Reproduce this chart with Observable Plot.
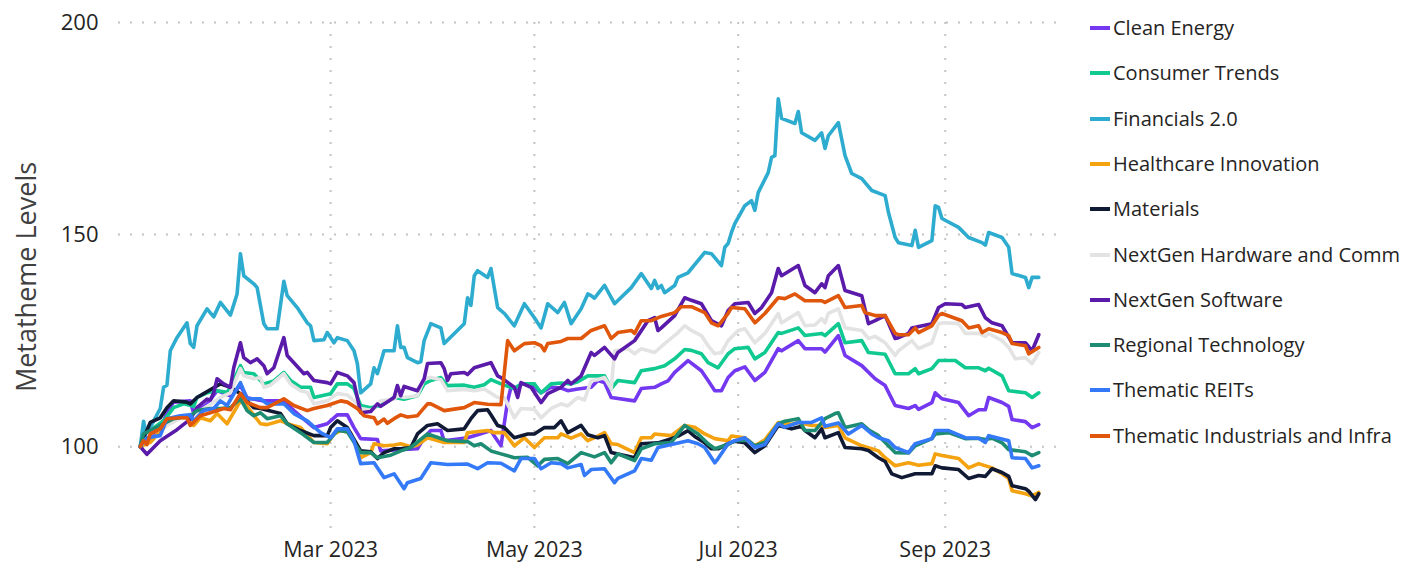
<!DOCTYPE html>
<html><head><meta charset="utf-8">
<script src="https://cdn.jsdelivr.net/npm/d3@7"></script>
<script src="https://cdn.jsdelivr.net/npm/@observablehq/plot@0.6"></script>
<style>
body{margin:0;background:#fff;font-family:"Open Sans",sans-serif;}
#wrap{position:relative;width:1404px;height:564px;overflow:hidden;}
#chart{position:absolute;left:0;top:0;}
#legend{position:absolute;left:1090px;top:0;}
.item{position:absolute;left:0;display:flex;align-items:center;white-space:nowrap;font-size:20px;color:#252423;line-height:1;}
.swatch{width:20px;height:4px;margin-right:3px;flex:none;}
</style></head><body>
<div id="wrap"><div id="chart"></div><div id="legend"></div></div>
<script>
const seriesNames = ["Clean Energy","Consumer Trends","Financials 2.0","Healthcare Innovation","Materials","NextGen Hardware and Comm","NextGen Software","Regional Technology","Thematic REITs","Thematic Industrials and Infra"];
const seriesColors = ["#7338F0","#0FC990","#2EACCF","#F4A20F","#111A35","#E3E3E3","#5A1AAA","#1E8C72","#3479F7","#E0560A"];
const yTicks = [100,150,200];
const xTickDates = ["2023-03-01","2023-05-01","2023-07-01","2023-09-01"];

const cleanEnergy = [["01-03",100],["01-07",102.6],["01-09",104],["01-11",108],["01-13",110.5],["01-18",110.8],["01-19",107.8],["01-23",110],["01-26",113.2],["01-30",112],["02-02",114.4],["02-04",111.5],["02-09",110.8],["02-15",110.8],["02-18",108.5],["02-24",104.5],["02-28",105.4],["03-03",107.5],["03-06",107.5],["03-08",104.5],["03-10",101.9],["03-15",101.7],["03-16",99],["03-20",99.2],["03-27",99.5],["03-29",102.1],["03-31",103.8],["04-03",103.8],["04-04",101.4],["04-11",102.1],["04-14",102.8],["04-18",103.8],["04-19",102.5],["04-21",100.2],["04-23",110.8],["04-24",114],["04-26",113.8],["04-27",114.8],["04-30",114.5],["05-03",112.7],["05-06",114],["05-09",113.8],["05-11",113.2],["05-14",113.6],["05-18",114],["05-20",115.6],["05-22",115.1],["05-24",111.6],["05-31",110.8],["06-02",113.7],["06-06",114],["06-08",114.8],["06-10",115.5],["06-12",117.5],["06-16",120.3],["06-20",117.9],["06-22",115.6],["06-24",113.2],["06-26",113.2],["06-28",116.3],["06-30",117.9],["07-03",118.8],["07-06",115.6],["07-09",117.5],["07-13",123.1],["07-14",122.6],["07-19",125],["07-21",123.1],["07-26",123.1],["07-27",122.3],["07-31",126.2],["08-02",121.5],["08-07",119.1],["08-11",116],["08-14",114.4],["08-17",109.7],["08-21",109],["08-23",109.7],["08-24",108.8],["08-28",110.4],["08-29",112.7],["08-31",111.3],["09-05",110.4],["09-08",107.3],["09-11",108.7],["09-13",108.7],["09-14",111.6],["09-18",110.4],["09-20",109.5],["09-21",106.4],["09-25",105.9],["09-27",104.5],["09-29",105.2]];

const consumerTrends = [["01-03",100],["01-06",103.8],["01-10",106.1],["01-13",109.2],["01-16",110.1],["01-19",109.5],["01-20",111.6],["01-23",112.7],["01-26",113.2],["01-29",112.8],["01-30",114],["02-02",119.1],["02-03",117.5],["02-06",117.2],["02-09",114.8],["02-12",115.5],["02-15",117.5],["02-17",115.6],["02-20",114],["02-23",114],["02-24",111.6],["03-01",112.5],["03-03",114.8],["03-06",114.8],["03-08",113.7],["03-10",109.7],["03-13",109.2],["03-16",109.7],["03-20",111.6],["03-23",111.2],["03-27",112],["03-29",114.8],["03-31",115.6],["04-03",116.3],["04-05",114.4],["04-10",114.5],["04-13",114],["04-16",114.6],["04-18",115.8],["04-21",114.8],["04-25",113.7],["04-27",114.8],["05-01",114.8],["05-03",112.7],["05-06",114.8],["05-09",115],["05-12",114.8],["05-14",115.3],["05-17",116.7],["05-22",116.7],["05-24",113.7],["05-26",115.6],["05-31",115.1],["06-02",117.9],["06-06",118.4],["06-09",119.1],["06-12",120.7],["06-15",122.9],["06-17",122.7],["06-20",121.9],["06-22",119.8],["06-25",118.6],["06-28",121.9],["06-30",123.1],["07-04",123.4],["07-06",120.7],["07-09",122.2],["07-13",126.9],["07-14",126.7],["07-19",128],["07-21",126.2],["07-26",126.7],["07-27",126.2],["07-31",129],["08-02",124.5],["08-07",125],["08-09",122.2],["08-14",121.8],["08-17",117.2],["08-21",117.2],["08-23",118.4],["08-24",117.2],["08-28",118.4],["08-30",120.3],["09-04",120.3],["09-07",118.6],["09-11",118.6],["09-13",117.9],["09-14",118.5],["09-18",116.7],["09-20",113.2],["09-25",112.7],["09-27",111.6],["09-29",112.7]];

const financials = [["01-03",100],["01-04",106],["01-05",102],["01-06",104.5],["01-09",109],["01-10",114],["01-11",114.5],["01-12",122.6],["01-14",125.7],["01-17",129.2],["01-18",124.3],["01-19",123.4],["01-20",128.5],["01-23",132.5],["01-25",130.6],["01-27",134],["01-30",131],["02-01",136],["02-02",145.5],["02-03",140.3],["02-06",138.4],["02-07",137.5],["02-09",129],["02-10",127.8],["02-13",127.8],["02-15",139],["02-16",135.6],["02-19",132.8],["02-22",129.2],["02-23",128.5],["02-24",125],["02-27",125.2],["02-28",126.9],["03-02",124.5],["03-03",125.7],["03-06",125],["03-08",122.6],["03-09",119.6],["03-10",112.7],["03-13",114.8],["03-14",118.6],["03-15",117.2],["03-17",122.6],["03-20",122.6],["03-21",128.5],["03-22",123.4],["03-23",123.4],["03-24",121],["03-27",119.8],["03-28",120],["03-29",125],["03-31",129],["04-03",128],["04-04",124.3],["04-10",129],["04-11",135.1],["04-12",133.3],["04-13",140.3],["04-14",141.5],["04-17",139.9],["04-18",142],["04-20",132.8],["04-22",131.4],["04-25",128.5],["04-28",133.7],["05-01",130.4],["05-03",128],["05-05",133.7],["05-08",131.6],["05-10",134],["05-12",129],["05-15",132.5],["05-17",136],["05-18",135.6],["05-19",135],["05-22",138],["05-25",133.7],["05-30",137.5],["06-02",140.8],["06-05",137.3],["06-06",139.2],["06-07",137.3],["06-08",138],["06-09",136.3],["06-12",138],["06-13",139.9],["06-16",141],["06-21",145.8],["06-23",145.5],["06-26",142.7],["06-27",147],["06-28",147.9],["06-29",150.5],["06-30",152.6],["07-03",156.8],["07-05",158],["07-06",155.7],["07-07",159.9],["07-10",164.6],["07-11",168.2],["07-12",168.6],["07-13",182],["07-14",177.4],["07-18",176.2],["07-19",179],["07-20",174],["07-24",172.2],["07-26",174],["07-27",170.3],["07-28",173.3],["07-31",176.4],["08-02",168.6],["08-04",164.4],["08-07",163.2],["08-10",160.4],["08-14",159.2],["08-15",155.2],["08-17",149.3],["08-18",148.1],["08-22",147.4],["08-23",151],["08-24",147],["08-28",148.6],["08-29",156.8],["08-30",156.4],["08-31",153.8],["09-05",151.7],["09-08",149.3],["09-12",148.1],["09-13",147.5],["09-14",150.5],["09-18",149.3],["09-20",147],["09-21",140.8],["09-25",139.9],["09-26",137.5],["09-27",139.9],["09-29",139.9]];

const healthcare = [["01-03",100],["01-06",101],["01-10",104.5],["01-14",106.8],["01-17",106.8],["01-19",105],["01-21",106.8],["01-24",106.1],["01-26",107.8],["01-29",105.4],["02-02",110.8],["02-04",109.5],["02-08",105.4],["02-10",105.2],["02-14",106.1],["02-17",105.2],["02-20",104.5],["02-24",101],["02-28",100.7],["03-02",103],["03-04",103.8],["03-07",103.2],["03-10",97.4],["03-13",98.6],["03-14",100.7],["03-17",100.2],["03-20",100.4],["03-22",100.7],["03-25",100],["03-27",100.4],["03-30",102.1],["04-04",101],["04-10",101],["04-11",103.3],["04-17",103.8],["04-19",103.3],["04-22",103.3],["04-25",100.2],["04-28",102.1],["05-01",99.8],["05-04",102.1],["05-08",102.1],["05-09",103],["05-12",102],["05-15",103],["05-17",101.4],["05-20",102.5],["05-22",103.3],["05-24",100.7],["05-26",100.5],["05-31",98.6],["06-02",102.1],["06-05",102.1],["06-06",103],["06-11",102.6],["06-15",105],["06-18",104.6],["06-21",103],["06-24",101.9],["06-28",101.4],["06-29",102.5],["07-03",102.1],["07-06",100.2],["07-09",101.6],["07-13",105.7],["07-17",105.3],["07-19",105.7],["07-23",105],["07-26",105],["07-27",104.5],["07-31",105],["08-02",102.1],["08-07",100.2],["08-10",99.5],["08-12",99],["08-14",97.4],["08-17",95.5],["08-21",96.2],["08-24",95.6],["08-28",96],["08-29",98.3],["08-31",97.9],["09-05",97.2],["09-08",95],["09-11",96],["09-15",95],["09-18",93.6],["09-20",92.5],["09-21",89.6],["09-25",88.9],["09-27",88.4],["09-29",89.2]];

const materials = [["01-03",100],["01-06",105.7],["01-09",106.8],["01-11",109.2],["01-13",110.8],["01-17",110.5],["01-18",110.1],["01-20",111.6],["01-22",112.5],["01-25",113.9],["01-27",114.8],["01-30",114],["02-02",112.5],["02-06",109.2],["02-08",109],["02-14",107.8],["02-16",105.4],["02-20",103.8],["02-24",102.6],["02-28",102.6],["03-01",104.5],["03-03",106.1],["03-06",104.5],["03-10",99],["03-13",98.8],["03-15",97.2],["03-17",98.6],["03-20",99.5],["03-22",99.5],["03-25",99.8],["03-27",103],["03-30",105],["04-02",105.4],["04-05",103.8],["04-10",104.2],["04-12",106.6],["04-14",108.5],["04-17",108.7],["04-18",107.5],["04-20",105],["04-22",104.5],["04-25",102.1],["04-29",103],["05-01",103],["05-04",104.5],["05-07",104.5],["05-09",106.1],["05-11",103.3],["05-15",105],["05-17",102.8],["05-20",102.1],["05-22",102.6],["05-24",98.6],["05-31",97.4],["06-02",100.7],["06-07",100.9],["06-11",101.9],["06-13",102.5],["06-16",103.8],["06-18",102.4],["06-21",100.9],["06-23",99.5],["06-25",99.5],["06-28",100.7],["06-30",101.3],["07-03",100.9],["07-06",98.6],["07-09",100.2],["07-13",105],["07-17",104.2],["07-20",104.8],["07-21",103.8],["07-24",102.1],["07-26",104.2],["07-27",102.1],["07-31",103.3],["08-02",99.8],["08-07",99.5],["08-09",99.1],["08-12",97.4],["08-14",96.5],["08-16",93.6],["08-19",92.7],["08-23",93.6],["08-28",93.6],["08-29",95.5],["08-31",95],["09-05",94.6],["09-08",92.5],["09-11",93.2],["09-13",93],["09-15",94.8],["09-18",93.9],["09-20",93],["09-21",90.8],["09-25",90.1],["09-26",89.5],["09-28",87.5],["09-29",88.9]];

const nextgenHardware = [["01-03",100],["01-06",103],["01-11",105],["01-17",107.5],["01-20",108],["01-24",110],["01-27",111.6],["01-30",112.7],["02-02",118.4],["02-03",116.7],["02-06",116],["02-08",116.3],["02-09",114],["02-11",114.5],["02-15",117.2],["02-17",114.8],["02-20",113.2],["02-22",112.8],["02-24",110.1],["02-28",110.8],["03-03",112.5],["03-06",112.2],["03-08",110.8],["03-10",109],["03-13",108.6],["03-14",109],["03-16",110.8],["03-20",111.2],["03-21",112],["03-23",111.6],["03-27",112],["03-29",116],["03-31",116.3],["04-03",115.8],["04-05",113.2],["04-10",113.5],["04-13",113.2],["04-16",113.6],["04-20",111.6],["04-22",111.6],["04-25",106.8],["04-27",109],["05-01",108.8],["05-03",106.8],["05-06",109],["05-09",110.1],["05-11",109.6],["05-14",111.6],["05-16",111],["05-18",115.6],["05-20",115.8],["05-22",116.3],["05-24",113.7],["05-25",122.6],["05-29",123.1],["05-31",121.9],["06-02",123.1],["06-06",122.2],["06-09",124.3],["06-13",126.9],["06-15",128.5],["06-17",127.4],["06-20",126.2],["06-22",123.8],["06-24",121.9],["06-26",122.2],["06-28",125],["07-01",127.4],["07-03",127.8],["07-06",124.5],["07-09",126.7],["07-13",131.4],["07-14",129.2],["07-19",131.6],["07-21",128.5],["07-24",128.7],["07-26",130.2],["07-27",129.2],["07-28",131.4],["07-31",132.5],["08-02",128],["08-07",127.4],["08-09",125.5],["08-11",126],["08-14",124.5],["08-17",121.5],["08-18",122.6],["08-22",125],["08-24",123.1],["08-28",124.5],["08-30",129],["09-01",129.2],["09-05",129],["09-07",126.7],["09-11",126.7],["09-13",126],["09-14",126.7],["09-18",125],["09-20",123.4],["09-22",120.7],["09-25",121],["09-27",119.6],["09-29",122.2]];

const nextgenSoftware = [["01-03",100],["01-05",98.2],["01-09",101.4],["01-14",104],["01-18",106.5],["01-20",109.2],["01-23",111.2],["01-24",111],["01-25",112.7],["01-26",116],["01-28",114.8],["01-30",114],["01-31",118.6],["02-02",124.5],["02-03",121],["02-05",119.8],["02-07",120.7],["02-09",119.1],["02-10",117.2],["02-12",118.6],["02-15",125.7],["02-16",121.5],["02-18",119.8],["02-21",117.2],["02-22",117.5],["02-24",115.6],["02-28",115.1],["03-01",114.8],["03-03",117.5],["03-06",116.7],["03-08",115.1],["03-10",108],["03-13",108.3],["03-15",110.1],["03-16",109.5],["03-20",111.6],["03-21",114.4],["03-22",112],["03-23",114.2],["03-27",113.2],["03-29",116],["03-30",119.6],["04-03",119.8],["04-04",118.4],["04-05",115.6],["04-06",117.2],["04-10",117.5],["04-11",117],["04-13",118.6],["04-18",119.8],["04-20",116.7],["04-21",116.3],["04-25",114],["04-26",111.6],["04-27",115.1],["04-30",114],["05-03",110.4],["05-05",112.5],["05-09",114],["05-11",115.6],["05-12",114.8],["05-15",116.7],["05-18",122.2],["05-19",121.5],["05-22",123.4],["05-25",120.7],["05-26",122.2],["05-31",125],["06-04",129.7],["06-06",130.4],["06-07",127.4],["06-08",128],["06-12",130.9],["06-15",135.1],["06-17",134.5],["06-20",133.7],["06-23",129.7],["06-26",128.5],["06-28",132.1],["06-30",133.7],["07-04",134],["07-06",131.4],["07-08",132.8],["07-11",136.3],["07-13",142],["07-14",140.3],["07-19",142.7],["07-21",138],["07-24",136.3],["07-26",138.4],["07-27",137.5],["07-28",140.3],["07-31",142.7],["08-02",136.8],["08-07",135.6],["08-09",129],["08-11",129.7],["08-14",130.9],["08-17",125.5],["08-18",125.7],["08-21",126.7],["08-22",128],["08-28",129],["08-30",132.8],["09-01",133.7],["09-06",133.5],["09-07",132.8],["09-11",133.5],["09-13",130.4],["09-15",129.2],["09-18",128.5],["09-21",124.5],["09-25",124.5],["09-27",122.6],["09-29",126.4]];

const regionalTech = [["01-03",100],["01-04",103],["01-09",105],["01-13",106.6],["01-18",107.3],["01-20",108.5],["01-24",109],["01-27",109],["01-30",109.2],["02-02",111.3],["02-04",108.5],["02-06",107.3],["02-08",108],["02-10",106.6],["02-14",107.3],["02-16",105.4],["02-20",103.3],["02-24",101],["02-28",101],["03-03",103.8],["03-06",103.5],["03-10",98.6],["03-13",98.6],["03-15",97.4],["03-19",98],["03-22",99],["03-25",99.8],["03-30",103],["04-05",101.4],["04-11",101.2],["04-13",100.2],["04-15",100.7],["04-18",99],["04-21",98.3],["04-25",97.4],["04-29",97.5],["05-02",95.5],["05-04",97],["05-08",97.2],["05-11",96],["05-15",98.6],["05-19",97.6],["05-22",98.6],["05-24",96.2],["05-26",98.3],["05-31",96.7],["06-02",99.5],["06-06",100.7],["06-11",101],["06-15",105],["06-19",103],["06-22",100.7],["06-24",99.5],["06-28",100.5],["06-30",101.4],["07-04",101.5],["07-06",100.2],["07-09",101],["07-13",105.4],["07-15",106],["07-19",106.6],["07-21",103.8],["07-24",103.8],["07-27",106.6],["07-30",107.8],["07-31",108],["08-02",104.5],["08-07",105.4],["08-09",104],["08-12",102.6],["08-15",100.2],["08-17",98.6],["08-21",98.5],["08-23",100.2],["08-28",101.9],["08-29",103],["09-02",103.3],["09-07",101.9],["09-11",102],["09-13",101.7],["09-15",102],["09-18",100.9],["09-20",99.3],["09-25",98.8],["09-27",97.9],["09-29",98.6]];

const thematicReits = [["01-03",100],["01-05",102.1],["01-09",102.6],["01-11",106.6],["01-15",107.3],["01-18",107.5],["01-19",106.1],["01-22",108.5],["01-25",109],["01-27",110.8],["01-29",109.7],["02-02",115.1],["02-04",111.3],["02-08",111.3],["02-10",110.1],["02-15",110.1],["02-18",107.8],["02-22",106.1],["02-26",103.3],["03-01",102.1],["03-03",104.2],["03-06",104.2],["03-08",101.4],["03-10",96],["03-14",96.2],["03-17",92.7],["03-20",93.6],["03-23",90.1],["03-24",91.5],["03-28",92.5],["03-31",96.2],["04-05",95.8],["04-11",95.9],["04-14",94.8],["04-17",96.2],["04-21",96.1],["04-25",94.3],["04-27",97.2],["05-01",97.2],["05-03",94.8],["05-06",96.2],["05-09",96],["05-11",95],["05-15",95.8],["05-16",93.2],["05-18",94.6],["05-22",94.8],["05-25",91.5],["05-26",92.5],["05-31",94.3],["06-02",97.2],["06-05",96.8],["06-07",99.8],["06-12",100.7],["06-16",101.4],["06-19",100.7],["06-21",99.8],["06-24",96.2],["06-25",97.2],["06-28",100.7],["06-30",101.4],["07-03",102.1],["07-06",99.8],["07-09",100.5],["07-13",105.4],["07-15",104.6],["07-19",105.7],["07-23",105.7],["07-26",106.8],["07-27",104.8],["07-31",105.6],["08-03",103],["08-07",105],["08-10",103],["08-12",102.1],["08-15",101.4],["08-17",99.8],["08-21",98.6],["08-23",100.7],["08-28",101.9],["08-29",103.8],["09-02",103.8],["09-05",102.8],["09-07",102.1],["09-11",102],["09-13",101],["09-14",102.6],["09-20",101.4],["09-21",97.4],["09-25",97.2],["09-27",95],["09-29",95.5]];

const industrials = [["01-03",100],["01-04",101.4],["01-05",100.5],["01-06",103],["01-09",104.2],["01-11",106.6],["01-15",106.8],["01-17",106.8],["01-18",105],["01-21",107.3],["01-24",108],["01-28",109],["01-30",108.7],["02-02",112.5],["02-04",110.4],["02-08",109.2],["02-10",109.2],["02-15",111.3],["02-18",109.7],["02-22",108.5],["02-24",109],["02-28",109.7],["03-04",110.8],["03-06",110.5],["03-09",109],["03-11",107.3],["03-14",106.8],["03-15",105.4],["03-17",106.5],["03-18",105.5],["03-20",106.6],["03-22",107.5],["03-24",107],["03-27",107.3],["03-30",110.1],["03-31",110.1],["04-04",108.5],["04-10",109.2],["04-13",110.4],["04-17",110],["04-21",109.9],["04-23",125],["04-25",122.6],["04-28",124.3],["05-01",124.5],["05-03",123.8],["05-04",122.6],["05-05",124.3],["05-09",124.8],["05-11",125.5],["05-15",125.5],["05-18",127.4],["05-22",128.5],["05-24",125.5],["05-26",126.9],["05-30",127.4],["05-31",126.7],["06-02",129.7],["06-05",129.7],["06-08",130.7],["06-12",131.6],["06-14",133],["06-17",133],["06-21",131.6],["06-23",129.2],["06-25",128.5],["06-28",131.4],["06-29",132.8],["07-03",132.5],["07-06",129.2],["07-09",131.4],["07-13",135.1],["07-15",134.9],["07-18",136],["07-21",134.4],["07-26",134.4],["07-27",134],["07-31",135.6],["08-02",132.8],["08-07",133.3],["08-08",131.6],["08-11",130.9],["08-14",130.9],["08-17",126.7],["08-18",126.4],["08-21",126.4],["08-23",128],["08-24",126.9],["08-28",128.5],["08-30",130.9],["08-31",131.4],["09-06",129.7],["09-08",128],["09-11",128.5],["09-12",126.9],["09-14",127.8],["09-18",126.9],["09-20",126.2],["09-21",124.3],["09-25",123.8],["09-26",121.9],["09-29",123.4]];

const seriesData = [cleanEnergy, consumerTrends, financials, healthcare, materials, nextgenHardware, nextgenSoftware, regionalTech, thematicReits, industrials];

const parseDay = s => { const [y,m,d] = s.split("-").map(Number); return new Date(y, m-1, d); };
const rows = [];
seriesNames.forEach((name, i) => {
  seriesData[i].forEach(([md, v]) => rows.push({series: name, date: parseDay("2023-" + md), value: v}));
});
const xTicks = xTickDates.map(parseDay);

const chart = Plot.plot({
  width: 1080,
  height: 564,
  marginLeft: 118,
  marginRight: 20,
  marginTop: 22,
  marginBottom: 33,
  style: {fontFamily: "'Open Sans', sans-serif", fontSize: "22px", color: "#252423", background: "transparent", overflow: "visible"},
  x: {type: "time", domain: [new Date(2022, 11, 27, 12), new Date(2023, 9, 5, 12)]},
  y: {domain: [80, 200]},
  color: {domain: seriesNames, range: seriesColors},
  marks: [
    Plot.gridY(yTicks, {stroke: "#c4c4c4", strokeOpacity: 1, strokeWidth: 2, strokeDasharray: "2,10"}),
    Plot.gridX(xTicks, {stroke: "#c4c4c4", strokeOpacity: 1, strokeWidth: 2, strokeDasharray: "2,10"}),
    Plot.axisY(yTicks, {tickSize: 0, tickPadding: 20, label: null}),
    Plot.axisX(xTicks, {tickSize: 0, tickPadding: 10, fontSize: 21.5, tickFormat: d3.timeFormat("%b %Y"), label: null}),
    Plot.line(rows, {x: "date", y: "value", z: "series", stroke: "series", strokeWidth: 3.6, strokeLinejoin: "round"}),
    Plot.text(["Metatheme Levels"], {frameAnchor: "left", dx: -91, rotate: -90, textAnchor: "middle", lineAnchor: "middle", fontSize: 27, fill: "#404040"})
  ]
});
document.getElementById("chart").appendChild(chart);

const legend = document.getElementById("legend");
seriesNames.forEach((name, i) => {
  const item = document.createElement("div");
  item.className = "item";
  item.style.top = (28 + i * 45.3 - 12) + "px";
  item.style.height = "24px";
  const sw = document.createElement("span");
  sw.className = "swatch";
  sw.style.background = seriesColors[i];
  const tx = document.createElement("span");
  tx.textContent = name;
  item.appendChild(sw);
  item.appendChild(tx);
  legend.appendChild(item);
});
</script>
</body></html>
